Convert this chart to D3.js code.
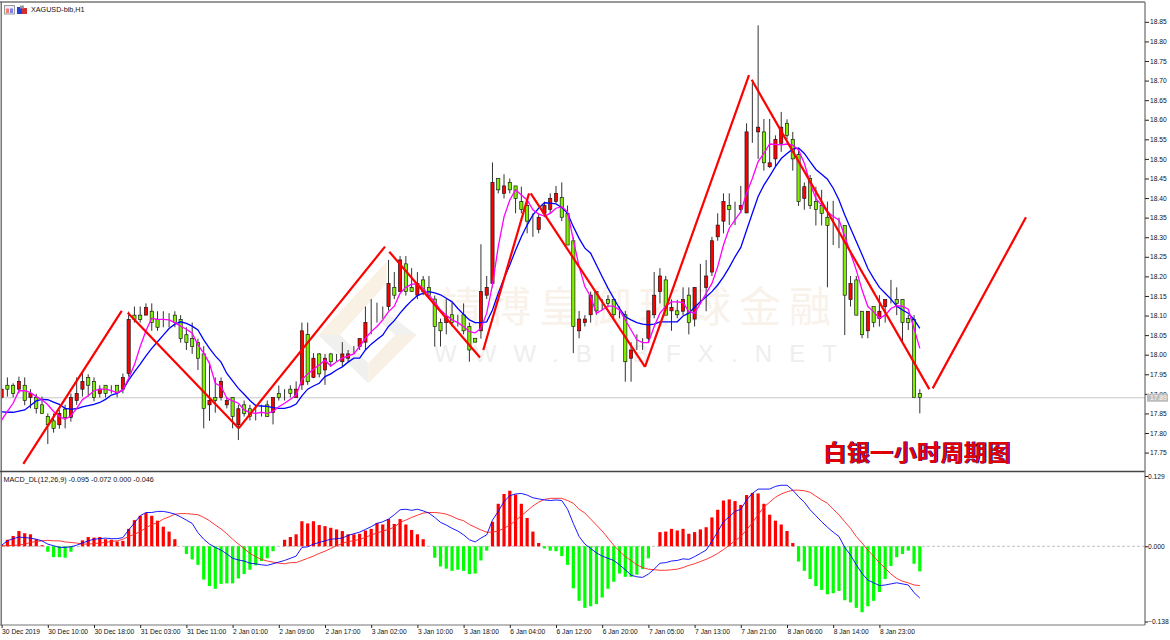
<!DOCTYPE html>
<html>
<head>
<meta charset="utf-8">
<title>XAGUSD H1</title>
<script src="https://cdnjs.cloudflare.com/ajax/libs/d3/7.8.5/d3.min.js"></script>
<style>
  html, body { margin: 0; padding: 0; background: #fff; }
  svg { display: block; }
  text { font-family: "Liberation Sans", Arial, sans-serif; }
  .small { font-size: 7.2px; fill: #111; }
  .axisText { font-size: 6.7px; fill: #111; }
</style>
</head>
<body>
<script>
// candles, one row per ten bars
var opens = [
  17.891,17.922,17.922,17.912,17.922,17.891,17.891,17.872,17.842,17.831,
  17.821,17.861,17.840,17.883,17.912,17.942,17.932,17.901,17.922,17.912,
  17.922,17.912,17.952,18.101,18.101,18.101,18.111,18.090,18.084,18.090,
  18.101,18.090,18.051,18.041,18.031,18.002,17.872,17.891,17.891,17.872,
  17.891,17.821,17.872,17.862,17.862,17.862,17.872,17.852,17.901,17.901,
  17.912,17.891,17.923,18.052,17.942,18.002,17.961,18.002,17.991,17.982,
  17.991,18.012,18.021,18.032,18.091,18.102,18.112,18.123,18.172,18.161,
  18.232,18.172,18.152,18.191,18.172,18.142,18.082,18.082,18.102,18.092,
  18.102,18.072,18.042,18.061,18.152,18.182,18.450,18.412,18.440,18.431,
  18.391,18.381,18.330,18.320,18.361,18.371,18.391,18.401,18.361,18.291,
  18.061,18.082,18.102,18.161,18.126,18.141,18.141,18.113,18.102,17.991,
  18.021,18.032,18.042,18.102,18.161,18.191,18.112,18.112,18.111,18.152,
  18.091,18.182,18.172,18.211,18.301,18.341,18.381,18.361,18.371,18.362,
  18.559,18.569,18.569,18.480,18.500,18.540,18.591,18.550,18.511,18.399,
  18.450,18.391,18.381,18.351,18.344,18.328,18.330,18.141,18.191,18.111,
  18.061,18.123,18.092,18.123,18.152,18.141,18.141,18.092,18.090,17.901
];
var highs = [
  17.922,17.942,17.927,17.944,17.942,17.912,17.900,17.893,17.850,17.850,
  17.859,17.872,17.901,17.942,17.952,17.950,17.942,17.922,17.922,17.922,
  17.922,17.952,18.110,18.123,18.123,18.131,18.131,18.111,18.111,18.106,
  18.111,18.101,18.070,18.082,18.041,18.022,17.981,17.942,17.942,17.891,
  17.891,17.872,17.883,17.872,17.872,17.872,17.883,17.891,17.921,17.912,
  17.922,17.932,18.082,18.082,18.004,18.004,18.002,18.004,18.002,18.032,
  18.012,18.022,18.041,18.123,18.142,18.133,18.123,18.242,18.211,18.252,
  18.252,18.221,18.211,18.201,18.201,18.151,18.092,18.142,18.133,18.102,
  18.131,18.082,18.042,18.282,18.201,18.491,18.450,18.461,18.450,18.431,
  18.429,18.391,18.361,18.361,18.391,18.412,18.431,18.440,18.381,18.300,
  18.112,18.101,18.161,18.161,18.142,18.152,18.141,18.123,18.112,18.032,
  18.052,18.042,18.112,18.211,18.221,18.201,18.141,18.140,18.172,18.172,
  18.172,18.232,18.242,18.301,18.361,18.412,18.412,18.391,18.431,18.591,
  18.694,18.841,18.602,18.602,18.560,18.620,18.601,18.569,18.528,18.440,
  18.459,18.429,18.421,18.391,18.393,18.350,18.330,18.201,18.201,18.111,
  18.111,18.123,18.152,18.141,18.191,18.172,18.141,18.101,18.101,17.912
];
var lows = [
  17.884,17.893,17.891,17.901,17.871,17.863,17.850,17.850,17.772,17.801,
  17.811,17.812,17.829,17.872,17.893,17.893,17.881,17.891,17.891,17.901,
  17.891,17.901,17.944,18.082,18.082,18.101,18.061,18.061,18.070,18.070,
  18.070,18.031,18.012,18.002,17.961,17.812,17.831,17.852,17.883,17.863,
  17.812,17.782,17.842,17.832,17.832,17.842,17.842,17.822,17.883,17.883,
  17.891,17.891,17.910,17.923,17.940,17.942,17.923,17.969,17.982,17.971,
  17.982,18.002,18.012,18.012,18.052,18.082,18.092,18.113,18.142,18.161,
  18.151,18.161,18.142,18.152,18.142,18.021,18.021,18.052,18.072,18.072,
  18.052,17.982,18.032,18.041,18.142,18.172,18.412,18.399,18.412,18.361,
  18.361,18.310,18.301,18.310,18.351,18.361,18.387,18.341,18.280,18.004,
  18.042,18.072,18.082,18.102,18.114,18.121,18.093,18.093,17.931,17.931,
  18.012,18.012,18.032,18.093,18.131,18.101,18.061,18.093,18.101,18.052,
  18.072,18.131,18.111,18.201,18.291,18.310,18.331,18.331,18.361,18.362,
  18.541,18.500,18.470,18.477,18.480,18.518,18.550,18.470,18.380,18.370,
  18.372,18.330,18.330,18.172,18.280,18.272,18.050,18.123,18.101,18.042,
  18.042,18.070,18.072,18.082,18.131,18.101,18.033,18.063,17.891,17.850
];
var closes = [
  17.912,17.912,17.901,17.932,17.883,17.901,17.863,17.850,17.821,17.812,
  17.850,17.840,17.891,17.901,17.932,17.922,17.891,17.912,17.901,17.912,
  17.903,17.942,18.090,18.090,18.090,18.121,18.082,18.070,18.084,18.090,
  18.082,18.041,18.031,18.021,17.991,17.863,17.883,17.883,17.932,17.883,
  17.842,17.862,17.850,17.842,17.862,17.862,17.842,17.891,17.891,17.901,
  17.901,17.912,18.061,17.931,17.991,17.951,17.991,17.982,17.991,18.002,
  18.002,18.012,18.041,18.082,18.091,18.102,18.112,18.182,18.152,18.242,
  18.161,18.161,18.182,18.161,18.151,18.072,18.061,18.097,18.082,18.092,
  18.061,18.012,18.032,18.161,18.172,18.440,18.421,18.431,18.421,18.399,
  18.371,18.341,18.330,18.351,18.381,18.399,18.412,18.351,18.280,18.072,
  18.091,18.091,18.152,18.112,18.126,18.131,18.102,18.113,17.982,18.012,
  18.021,18.032,18.112,18.152,18.201,18.101,18.121,18.102,18.141,18.082,
  18.172,18.182,18.201,18.291,18.331,18.391,18.371,18.361,18.381,18.569,
  18.559,18.581,18.490,18.490,18.550,18.581,18.560,18.500,18.391,18.429,
  18.381,18.371,18.361,18.330,18.344,18.328,18.152,18.182,18.101,18.051,
  18.111,18.082,18.111,18.141,18.152,18.131,18.082,18.082,17.891,17.891
];

// moving averages on the price panel
var maSlow = [
  17.854,17.853,17.853,17.856,17.859,17.870,17.882,17.886,17.885,17.879,
  17.873,17.863,17.861,17.862,17.867,17.870,17.873,17.878,17.886,17.897,
  17.901,17.910,17.935,17.956,17.976,17.997,18.016,18.033,18.050,18.067,
  18.078,18.084,18.080,18.073,18.063,18.038,18.016,17.997,17.981,17.952,
  17.933,17.914,17.899,17.883,17.870,17.869,17.868,17.865,17.863,17.863,
  17.867,17.874,17.895,17.912,17.920,17.927,17.944,17.951,17.961,17.969,
  17.981,17.991,17.991,18.012,18.027,18.039,18.050,18.072,18.087,18.106,
  18.123,18.138,18.151,18.157,18.161,18.158,18.153,18.144,18.135,18.118,
  18.103,18.089,18.082,18.082,18.084,18.114,18.157,18.195,18.229,18.267,
  18.301,18.331,18.357,18.374,18.388,18.387,18.385,18.376,18.361,18.327,
  18.297,18.272,18.259,18.229,18.199,18.170,18.144,18.118,18.097,18.089,
  18.082,18.078,18.076,18.078,18.084,18.084,18.084,18.084,18.099,18.106,
  18.121,18.135,18.148,18.161,18.178,18.199,18.223,18.250,18.274,18.318,
  18.361,18.404,18.433,18.456,18.480,18.501,18.514,18.525,18.528,18.514,
  18.493,18.473,18.461,18.448,18.425,18.395,18.357,18.323,18.289,18.255,
  18.220,18.195,18.172,18.157,18.142,18.124,18.114,18.106,18.090,18.067
];
var maFast = [
  17.833,17.855,17.876,17.908,17.908,17.903,17.893,17.885,17.872,17.855,
  17.842,17.835,17.844,17.863,17.885,17.895,17.908,17.912,17.912,17.908,
  17.903,17.910,17.940,17.974,18.021,18.061,18.093,18.090,18.090,18.089,
  18.082,18.073,18.065,18.055,18.025,18.004,17.978,17.927,17.919,17.889,
  17.882,17.876,17.859,17.852,17.850,17.853,17.850,17.855,17.867,17.876,
  17.886,17.897,17.936,17.951,17.963,17.974,17.986,17.971,17.982,17.991,
  17.997,18.002,18.021,18.042,18.059,18.072,18.089,18.110,18.124,18.157,
  18.172,18.180,18.181,18.170,18.152,18.135,18.114,18.101,18.089,18.082,
  18.072,18.059,18.056,18.067,18.106,18.178,18.276,18.352,18.395,18.421,
  18.408,18.395,18.370,18.359,18.354,18.361,18.374,18.378,18.365,18.293,
  18.225,18.174,18.148,18.106,18.114,18.124,18.124,18.114,18.089,18.063,
  18.038,18.031,18.031,18.072,18.106,18.123,18.135,18.135,18.133,18.110,
  18.106,18.131,18.157,18.182,18.225,18.280,18.323,18.344,18.365,18.412,
  18.450,18.493,18.514,18.538,18.537,18.536,18.538,18.535,18.523,18.489,
  18.438,18.399,18.382,18.365,18.353,18.344,18.303,18.259,18.216,18.165,
  18.123,18.110,18.093,18.101,18.118,18.125,18.124,18.116,18.067,18.016
];

// hand drawn red zigzag, from and to as [bar, price]
var zigzagFrom = [[3.76,17.721],[21.84,18.107],[41.05,17.812],[67.13,18.263],[83.41,18.012],[91.62,18.412],[111.41,17.969],[129.89,18.702],[161.23,17.914]];
var zigzagTo = [[20.80,18.112],[41.05,17.812],[66.39,18.276],[82.84,17.993],[91.33,18.412],[111.41,17.969],[129.42,18.714],[160.64,17.912],[177.38,18.351]];

// MACD panel
var macdHist = [
  .002,.012,.019,.028,.024,.022,.013,.002,-.010,-.020,
  -.020,-.021,-.010,.000,.011,.017,.016,.017,.013,.012,
  .009,.010,.032,.048,.056,.061,.056,.047,.036,.027,
  .013,.000,-.014,-.024,-.034,-.061,-.073,-.078,-.069,-.068,
  -.068,-.059,-.051,-.043,-.035,-.027,-.022,-.009,.000,.012,
  .017,.022,.046,.042,.046,.039,.037,.034,.031,.028,
  .022,.022,.023,.029,.032,.043,.040,.050,.041,.050,
  .040,.030,.022,.013,.000,-.021,-.037,-.041,-.045,-.043,
  -.045,-.051,-.050,-.026,-.008,.045,.078,.096,.102,.095,
  .078,.052,.027,.006,-.004,-.008,-.009,-.018,-.034,-.077,
  -.100,-.113,-.110,-.106,-.094,-.078,-.065,-.050,-.056,-.056,
  -.052,-.042,-.022,.000,.026,.027,.032,.029,.032,.023,
  .026,.031,.035,.053,.067,.084,.086,.083,.076,.094,
  .098,.097,.078,.058,.047,.040,.028,.006,-.028,-.045,
  -.060,-.073,-.080,-.088,-.086,-.082,-.099,-.103,-.113,-.121,
  -.110,-.100,-.084,-.060,-.036,-.020,-.014,-.008,-.032,-.046
];
var macdLine = [
  .002,.010,.014,.017,.016,.015,.013,.010,.004,.001,
  -.002,-.002,-.001,.002,.006,.010,.013,.014,.015,.014,
  .014,.016,.030,.043,.056,.062,.062,.064,.064,.062,
  .059,.054,.048,.042,.025,.013,.004,-.002,-.007,-.014,
  -.022,-.025,-.027,-.031,-.032,-.034,-.035,-.032,-.029,-.026,
  -.022,-.018,-.002,-.001,.004,.007,.010,.013,.014,.015,
  .020,.023,.026,.031,.036,.042,.045,.050,.058,.067,
  .068,.066,.068,.065,.061,.053,.044,.039,.033,.028,
  .021,.012,.008,.015,.021,.048,.064,.082,.093,.096,
  .097,.094,.089,.087,.085,.084,.085,.084,.068,.042,
  .018,.004,-.004,-.012,-.018,-.022,-.026,-.034,-.043,-.053,
  -.056,-.057,-.051,-.042,-.031,-.030,-.027,-.026,-.023,-.024,
  -.019,-.013,-.007,.009,.027,.045,.054,.064,.068,.085,
  .097,.105,.105,.105,.110,.112,.112,.103,.091,.081,
  .067,.056,.045,.035,.026,.018,-.002,-.016,-.034,-.050,
  -.062,-.067,-.072,-.071,-.069,-.067,-.069,-.071,-.085,-.095
];
var macdSignal = [
  .001,.001,.002,.002,.004,.007,.009,.010,.011,.010,
  .010,.008,.007,.006,.004,.004,.005,.006,.007,.009,
  .010,.013,.018,.022,.027,.034,.040,.043,.050,.054,
  .059,.060,.060,.059,.058,.053,.047,.039,.032,.023,
  .013,.004,-.004,-.013,-.019,-.024,-.027,-.029,-.031,-.032,
  -.030,-.030,-.026,-.022,-.018,-.013,-.009,-.004,.001,.005,
  .009,.010,.013,.016,.021,.024,.028,.031,.035,.044,
  .048,.053,.057,.061,.062,.062,.061,.059,.055,.050,
  .047,.040,.035,.030,.026,.026,.028,.033,.039,.047,
  .056,.065,.074,.081,.086,.088,.088,.088,.084,.079,
  .068,.061,.050,.039,.028,.015,.002,-.009,-.019,-.026,
  -.034,-.039,-.042,-.043,-.044,-.044,-.043,-.042,-.039,-.035,
  -.032,-.028,-.024,-.019,-.013,-.006,.002,.010,.018,.030,
  .043,.058,.072,.081,.090,.096,.100,.103,.103,.102,
  .099,.092,.085,.079,.068,.058,.045,.033,.018,.006,
  -.007,-.018,-.030,-.040,-.051,-.059,-.064,-.067,-.071,-.072
];

// axis labels
var priceTicks = [18.85,18.80,18.75,18.70,18.65,18.60,18.55,18.50,18.45,18.40,18.35,18.30,18.25,18.20,18.15,18.10,18.05,18.00,17.95,17.90,17.85,17.80,17.75];
var macdTicks = [0.129,0,-0.138];
var timeLabels = ["30 Dec 2019","30 Dec 10:00","30 Dec 18:00","31 Dec 03:00","31 Dec 11:00","2 Jan 01:00","2 Jan 09:00","2 Jan 17:00","3 Jan 02:00","3 Jan 10:00","3 Jan 18:00","6 Jan 04:00","6 Jan 12:00","6 Jan 20:00","7 Jan 05:00","7 Jan 13:00","7 Jan 21:00","8 Jan 06:00","8 Jan 14:00","8 Jan 23:00"];
var lastPrice = 17.89;

var width = 1170, height = 640;
var panelLeft = 2, panelRight = 1145;
var mainTop = 3, mainBottom = 471, macdTop = 472, macdBottom = 625;

var svg = d3.select("body").append("svg")
    .attr("width", width)
    .attr("height", height);

var x = d3.scaleLinear().domain([0, 160]).range([1.6, 925.6]);
var y = d3.scaleLinear().domain([17.75, 18.85]).range([452.6, 21.84]);
var yMacd = d3.scaleLinear().domain([-0.138, 0.129]).range([621.5, 476]);

svg.append("clipPath").attr("id", "mainClip").append("rect")
    .attr("x", panelLeft).attr("y", mainTop)
    .attr("width", panelRight - panelLeft).attr("height", mainBottom - mainTop);
svg.append("clipPath").attr("id", "macdClip").append("rect")
    .attr("x", panelLeft).attr("y", macdTop)
    .attr("width", panelRight - panelLeft).attr("height", macdBottom - macdTop);

// watermark behind the chart
var mark = svg.append("g");
var logo = mark.append("g").attr("transform", "translate(310,240) scale(0.3333)");
var logoShapes = [
  ["#f8f1e4", "230,65 230,130 90,285 25,285"],
  ["#f0f0ee", "25,285 90,285 175,370 175,430"],
  ["#f9f0e5", "175,430 175,370 255,285 320,285"],
  ["#f1f1ef", "225,215 320,285 255,285 205,240"]
];
logo.selectAll("polygon").data(logoShapes).enter().append("polygon")
    .attr("points", function(d) { return d[1]; })
    .attr("fill", function(d) { return d[0]; });

var markChars = ["靖","博","皇","御","环","球","金","融"];
mark.selectAll(".markChar").data(markChars).enter().append("text")
    .attr("class", "markChar")
    .attr("x", function(d, i) { return 460 + i * 50; })
    .attr("y", 322)
    .attr("text-anchor", "middle")
    .style("font-family", '"Noto Sans CJK SC"')
    .style("font-size", "42px")
    .attr("fill", "#f9f2ea")
    .text(function(d) { return d; });

mark.append("text")
    .attr("x", 434)
    .attr("y", 362)
    .attr("textLength", 403)
    .attr("lengthAdjust", "spacing")
    .style("font-size", "24px")
    .attr("fill", "#eeeeee")
    .text("WWW.BIBFX.NET");

// last price line
svg.append("line")
    .attr("x1", panelLeft).attr("x2", panelRight)
    .attr("y1", y(lastPrice)).attr("y2", y(lastPrice))
    .attr("stroke", "#c8c8c8").attr("stroke-width", 1);

// candles
var candleG = svg.append("g").attr("clip-path", "url(#mainClip)");
var candle = candleG.selectAll(".candle").data(d3.range(opens.length)).enter().append("g")
    .attr("class", "candle");
candle.append("line")
    .attr("x1", function(i) { return x(i); })
    .attr("x2", function(i) { return x(i); })
    .attr("y1", function(i) { return y(highs[i]); })
    .attr("y2", function(i) { return y(lows[i]); })
    .attr("stroke", "#333").attr("stroke-width", 1);
candle.append("rect")
    .attr("x", function(i) { return x(i) - 1.6; })
    .attr("y", function(i) { return y(Math.max(opens[i], closes[i])); })
    .attr("width", 3.2)
    .attr("height", function(i) { return Math.abs(y(opens[i]) - y(closes[i])); })
    .attr("fill", function(i) { return closes[i] >= opens[i] ? "#ff0000" : "#80f000"; })
    .attr("stroke", "#111").attr("stroke-width", 0.65);

// moving averages
var maLine = d3.line().x(function(d, i) { return x(i); }).y(function(d) { return y(d); });
candleG.append("path").attr("d", maLine(maSlow))
    .attr("fill", "none").attr("stroke", "#0000ff").attr("stroke-width", 1.3);
candleG.append("path").attr("d", maLine(maFast))
    .attr("fill", "none").attr("stroke", "#ff00ff").attr("stroke-width", 1.3);

// zigzag
candleG.selectAll(".zigzag").data(zigzagFrom).enter().append("line")
    .attr("class", "zigzag")
    .attr("x1", function(d) { return x(d[0]); })
    .attr("y1", function(d) { return y(d[1]); })
    .attr("x2", function(d, i) { return x(zigzagTo[i][0]); })
    .attr("y2", function(d, i) { return y(zigzagTo[i][1]); })
    .attr("stroke", "#ff0000").attr("stroke-width", 2.2);

// MACD
var macdG = svg.append("g").attr("clip-path", "url(#macdClip)");
macdG.append("line")
    .attr("x1", panelLeft).attr("x2", panelRight)
    .attr("y1", yMacd(0)).attr("y2", yMacd(0))
    .attr("stroke", "#c0c0c0").attr("stroke-dasharray", "3,2");
macdG.selectAll(".hist").data(macdHist).enter().append("rect")
    .attr("class", "hist")
    .attr("x", function(d, i) { return x(i) - 1.6; })
    .attr("width", 3.2)
    .attr("y", function(d) { return Math.min(yMacd(d), yMacd(0)); })
    .attr("height", function(d) { return Math.abs(yMacd(d) - yMacd(0)); })
    .attr("fill", function(d) { return d >= 0 ? "#ff0000" : "#00ff00"; });
var macdPath = d3.line().x(function(d, i) { return x(i); }).y(function(d) { return yMacd(d); });
macdG.append("path").attr("d", macdPath(macdSignal))
    .attr("fill", "none").attr("stroke", "#ff2020").attr("stroke-width", 0.9);
macdG.append("path").attr("d", macdPath(macdLine))
    .attr("fill", "none").attr("stroke", "#0000ff").attr("stroke-width", 0.9);

// frame
svg.append("line").attr("x1", 0).attr("x2", panelRight).attr("y1", 2).attr("y2", 2).attr("stroke", "#333").attr("stroke-width", 1.2);
svg.append("line").attr("x1", 1.2).attr("x2", 1.2).attr("y1", 2).attr("y2", macdBottom).attr("stroke", "#555").attr("stroke-width", 1.2);
svg.append("line").attr("x1", 0).attr("x2", panelRight).attr("y1", 471.5).attr("y2", 471.5).attr("stroke", "#444").attr("stroke-width", 1.6);
svg.append("line").attr("x1", 0).attr("x2", panelRight).attr("y1", macdBottom).attr("y2", macdBottom).attr("stroke", "#777").attr("stroke-width", 1.2);
svg.append("line").attr("x1", panelRight).attr("x2", panelRight).attr("y1", 2).attr("y2", macdBottom).attr("stroke", "#808080").attr("stroke-width", 1.4);

// axes
var priceAxis = d3.axisRight(y).tickValues(priceTicks).tickSize(4).tickPadding(1)
    .tickFormat(d3.format(".2f"));
var macdAxis = d3.axisRight(yMacd).tickValues(macdTicks).tickSize(3).tickPadding(0)
    .tickFormat(d3.format(".3f"));
var timeAxis = d3.axisBottom(x).tickValues(d3.range(0, timeLabels.length).map(function(i) { return i * 8; }))
    .tickSize(3)
    .tickFormat(function(d) { return timeLabels[d / 8]; });

var priceG = svg.append("g").attr("transform", "translate(" + panelRight + ",0)").call(priceAxis);
var macdAxisG = svg.append("g").attr("transform", "translate(" + panelRight + ",0)").call(macdAxis);
var timeG = svg.append("g").attr("transform", "translate(0," + macdBottom + ")").call(timeAxis);
[priceG, macdAxisG, timeG].forEach(function(g) {
  g.select(".domain").remove();
  g.selectAll(".tick line").attr("stroke", "#222");
  g.selectAll(".tick text").attr("class", "axisText").style("font-family", '"Liberation Sans"');
});
// time labels start just right of their tick
timeG.selectAll(".tick text")
    .attr("text-anchor", "start").attr("x", 0).attr("y", 4).attr("dy", "0.71em");

// last price tag
svg.append("rect").attr("x", 1147).attr("y", y(lastPrice) - 4).attr("width", 21).attr("height", 8).attr("fill", "#bdbdbd");
svg.append("text").attr("class", "axisText").attr("x", 1150).attr("y", y(lastPrice) + 2.5).style("fill", "#fff").text(lastPrice.toFixed(2));

// chart captions
svg.append("text").attr("class", "small").attr("x", 31).attr("y", 12).text("XAGUSD-bib,H1");
svg.append("text").attr("class", "small").attr("x", 3.5).attr("y", 482)
    .text("MACD_DL(12,26,9) -0.095 -0.072 0.000 -0.046");

// the two small toolbar icons
var icons = svg.append("g");
icons.append("rect").attr("x", 4.5).attr("y", 5.5).attr("width", 10).attr("height", 8.5).attr("fill", "#eef").attr("stroke", "#999");
icons.append("rect").attr("x", 6).attr("y", 8.5).attr("width", 3).attr("height", 4.5).attr("fill", "#f08070");
icons.append("rect").attr("x", 10).attr("y", 8.5).attr("width", 3).attr("height", 4.5).attr("fill", "#8080f0");
icons.append("rect").attr("x", 17).attr("y", 7).attr("width", 5).attr("height", 7).attr("fill", "#2040e0");
icons.append("rect").attr("x", 22).attr("y", 8).attr("width", 5).attr("height", 6).attr("fill", "#d03030");
icons.append("rect").attr("x", 20).attr("y", 5.5).attr("width", 4).attr("height", 3).attr("fill", "#999");

// red caption with its blue shadow
var captionText = "白银一小时周期图";
[["#0000a0", 824.2, 461.2], ["#e00000", 823, 460.5]].forEach(function(c) {
  svg.append("text")
      .attr("x", c[1]).attr("y", c[2])
      .attr("textLength", 187)
      .style("font-family", '"Noto Sans CJK SC"')
      .style("font-weight", "700")
      .style("font-size", "23px")
      .attr("fill", c[0])
      .text(captionText);
});
</script>
</body>
</html>
